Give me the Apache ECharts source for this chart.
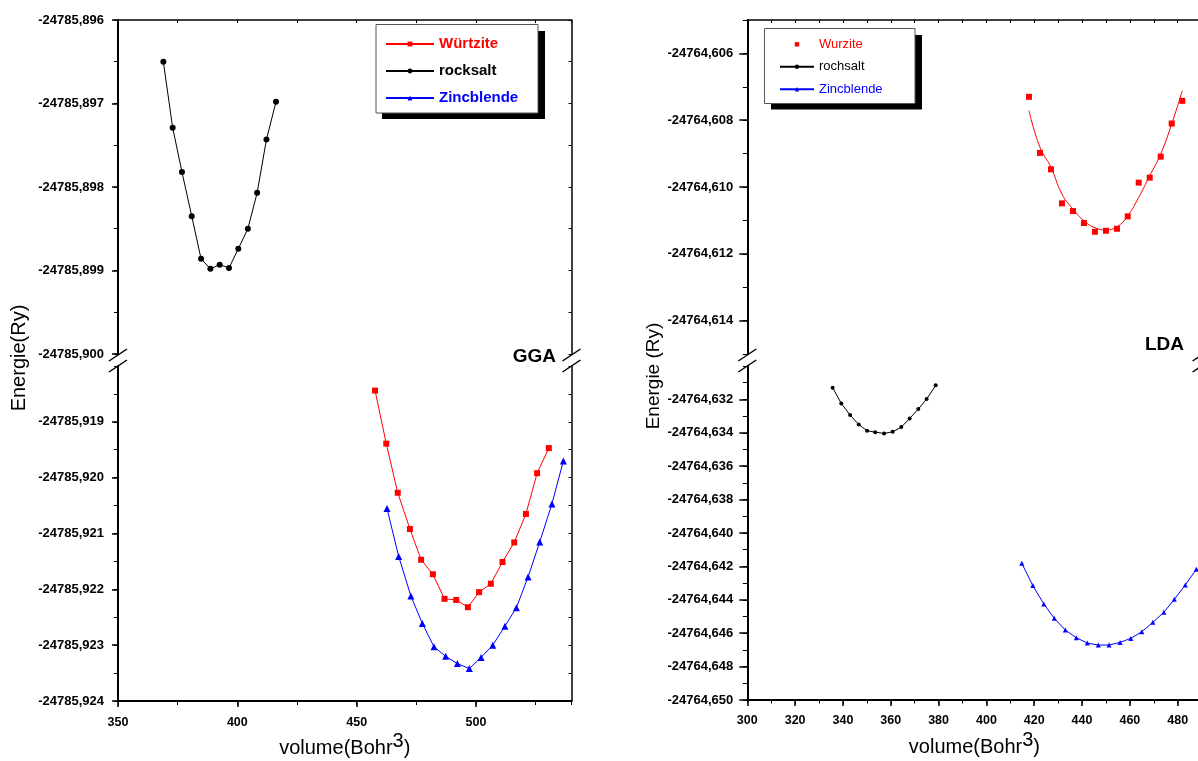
<!DOCTYPE html>
<html>
<head>
<meta charset="utf-8">
<script src="https://cdn.jsdelivr.net/npm/echarts@6/dist/echarts.min.js"></script>
<style>
  html, body { margin: 0; padding: 0; background: #fff; }
  #chart { width: 1198px; height: 761px; }
</style>
</head>
<body>
<div id="chart"></div>
<script>
// ---------- GGA (left panel) ----------
const ggaRocksaltVol = [369.0, 372.9, 376.8, 380.9, 384.8, 388.7, 392.6, 396.5, 400.4, 404.4, 408.3, 412.2, 416.2];
const ggaRocksaltE = [-24785.8965, -24785.89729, -24785.89782, -24785.89835, -24785.89886, -24785.89898, -24785.89893,
  -24785.89897, -24785.89874, -24785.89850, -24785.89807, -24785.89743, -24785.89698];

const ggaWurtziteVol = [457.7, 462.4, 467.2, 472.3, 477.0, 481.9, 486.8, 491.7, 496.6, 501.3, 506.2, 511.1, 516.0, 520.9, 525.6, 530.5];
const ggaWurtziteE = [-24785.91844, -24785.91939, -24785.92027, -24785.92092, -24785.92147, -24785.92173, -24785.92217, -24785.92219,
  -24785.92232, -24785.92205, -24785.92190, -24785.92151, -24785.92116, -24785.92065, -24785.91992, -24785.91947];

const ggaZincVol = [462.7, 467.6, 472.7, 477.5, 482.4, 487.3, 492.2, 497.2, 502.1, 507.0, 512.1, 516.9, 521.8, 526.7, 531.8, 536.6];
const ggaZincE = [-24785.92055, -24785.92141, -24785.92212, -24785.92261, -24785.92303, -24785.92320, -24785.92333, -24785.92342,
  -24785.92322, -24785.92300, -24785.92266, -24785.92233, -24785.92178, -24785.92115, -24785.92047, -24785.91970];

// ---------- LDA (right panel) ----------
const ldaRocksaltVol = [335.7, 339.3, 343.0, 346.6, 350.1, 353.5, 357.2, 360.8, 364.4, 367.9, 371.5, 375.0, 378.8];
const ldaRocksaltE = [-24764.63130, -24764.63224, -24764.63294, -24764.63350, -24764.63388, -24764.63396, -24764.63404,
  -24764.63394, -24764.63366, -24764.63314, -24764.63258, -24764.63198, -24764.63116];

const ldaWurziteVol = [417.8, 422.4, 427.0, 431.6, 436.2, 440.8, 445.4, 450.0, 454.6, 459.1, 463.7, 468.3, 472.9, 477.5, 481.9];
const ldaWurziteE = [-24764.60730, -24764.60898, -24764.60947, -24764.61049, -24764.61072, -24764.61108, -24764.61134, -24764.61131,
  -24764.61125, -24764.61088, -24764.60987, -24764.60972, -24764.60909, -24764.60810, -24764.60742];
// fitted curve through the wurzite points
const ldaWurziteFitE = [-24764.60771, -24764.60881, -24764.60941, -24764.61021, -24764.61066, -24764.61101, -24764.61122, -24764.61128,
  -24764.61119, -24764.61086, -24764.61031, -24764.60966, -24764.60901, -24764.60811, -24764.60712];

const ldaZincVol = [414.8, 419.4, 424.0, 428.4, 433.0, 437.6, 442.2, 446.8, 451.3, 455.9, 460.4, 465.0, 469.6, 474.2, 478.6, 483.2, 487.8];
const ldaZincE = [-24764.64181, -24764.64315, -24764.64425, -24764.64511, -24764.64581, -24764.64627, -24764.64659, -24764.64671,
  -24764.64671, -24764.64655, -24764.64631, -24764.64591, -24764.64535, -24764.64475, -24764.64397, -24764.64311, -24764.64217];

// ---------- tick labels ----------
const ggaVolTicks = [350, 400, 450, 500];
const ldaVolTicks = [300, 320, 340, 360, 380, 400, 420, 440, 460, 480];
const ggaUpperETicks = [-24785.896, -24785.897, -24785.898, -24785.899, -24785.900];
const ggaLowerETicks = [-24785.919, -24785.920, -24785.921, -24785.922, -24785.923, -24785.924];
const ldaUpperETicks = [-24764.606, -24764.608, -24764.610, -24764.612, -24764.614];
const ldaLowerETicks = [-24764.632, -24764.634, -24764.636, -24764.638, -24764.640, -24764.642, -24764.644, -24764.646, -24764.648, -24764.650];

const FONT = '"Liberation Sans", Arial, Helvetica, sans-serif';
const fmtE = v => v.toFixed(3).replace('.', ',');
const fmtV = v => String(Math.round(v));
const zip = (xs, ys) => xs.map((x, i) => [x, ys[i]]);

const grids = [
  { left: 118, top: 20, width: 453.5, height: 334 },   // GGA upper
  { left: 118, top: 366, width: 453.5, height: 335 },  // GGA lower
  { left: 747.3, top: 20, width: 454.3, height: 334 }, // LDA upper
  { left: 747.3, top: 366, width: 454.3, height: 334 } // LDA lower
].map(g => Object.assign({ containLabel: false, outerBoundsMode: 'none' }, g));

const xAxes = [];
const yAxes = [];
const add = (list, o) => { list.push(o); return list.length - 1; };

// axis carrying the line, labelled major ticks
function mainAxis(gridIndex, position, min, max, ticks, tickLen, fmt, margin, fontSize) {
  return {
    type: 'value', gridIndex, position, min, max,
    axisLine: { show: true, onZero: false, lineStyle: { color: '#000', width: 2 } },
    axisTick: { show: true, inside: false, length: tickLen, customValues: ticks, lineStyle: { color: '#000', width: 1.5 } },
    axisLabel: { show: true, customValues: ticks, formatter: fmt, margin, color: '#000',
      fontFamily: FONT, fontSize, fontWeight: 'bold' },
    splitLine: { show: false }
  };
}
// plain tick row (minor ticks, mirrored frame sides)
function tickAxis(gridIndex, position, min, max, step, len, inside, showLine) {
  return {
    type: 'value', gridIndex, position, min, max, interval: step,
    axisLine: { show: !!showLine, onZero: false, lineStyle: { color: '#000', width: 1.5 } },
    axisTick: { show: true, inside, length: len, lineStyle: { color: '#000', width: 1 } },
    axisLabel: { show: false },
    splitLine: { show: false }
  };
}

const volName = '{n|volume(Bohr}{s|3}{n|)}';
const volNameStyle = {
  color: '#000', fontFamily: FONT, fontSize: 20,
  rich: {
    n: { fontFamily: FONT, fontSize: 20, color: '#000', verticalAlign: 'bottom' },
    s: { fontFamily: FONT, fontSize: 20, color: '#000', verticalAlign: 'bottom', padding: [0, 0, 7, 0] }
  }
};

// ---- GGA axes ----
const ggaX = [350, 540];
const ggaUpY = [-24785.900, -24785.896];
const ggaLoY = [-24785.924, -24785.918];
const xGgaTop = add(xAxes, tickAxis(0, 'top', ggaX[0], ggaX[1], 25, 3, true, true));
const xGgaBot = add(xAxes, Object.assign(mainAxis(1, 'bottom', ggaX[0], ggaX[1], ggaVolTicks, 6, fmtV, 15, 12.5), {
  name: volName, nameLocation: 'middle', nameGap: 30, nameTextStyle: volNameStyle }));
add(xAxes, tickAxis(1, 'bottom', ggaX[0], ggaX[1], 25, 4, false, false));

const yGgaUp = add(yAxes, mainAxis(0, 'left', ggaUpY[0], ggaUpY[1], ggaUpperETicks, 6, fmtE, 14, 13));
add(yAxes, tickAxis(0, 'left', ggaUpY[0], ggaUpY[1], 0.0005, 4, false, false));
add(yAxes, tickAxis(0, 'right', ggaUpY[0], ggaUpY[1], 0.0005, 3, true, true));
const yGgaLo = add(yAxes, mainAxis(1, 'left', ggaLoY[0], ggaLoY[1], ggaLowerETicks, 6, fmtE, 14, 13));
add(yAxes, tickAxis(1, 'left', ggaLoY[0], ggaLoY[1], 0.0005, 4, false, false));
add(yAxes, tickAxis(1, 'right', ggaLoY[0], ggaLoY[1], 0.0005, 3, true, true));

// ---- LDA axes ----
const ldaX = [300, 490];
const ldaUpY = [-24764.615, -24764.605];
const ldaLoY = [-24764.650, -24764.630];
const xLdaTop = add(xAxes, tickAxis(2, 'top', ldaX[0], ldaX[1], 10, 3, true, true));
const xLdaBot = add(xAxes, Object.assign(mainAxis(3, 'bottom', ldaX[0], ldaX[1], ldaVolTicks, 6, fmtV, 14, 12.5), {
  name: volName, nameLocation: 'middle', nameGap: 30, nameTextStyle: volNameStyle }));
add(xAxes, tickAxis(3, 'bottom', ldaX[0], ldaX[1], 10, 3.5, false, false));

const yLdaUp = add(yAxes, mainAxis(2, 'left', ldaUpY[0], ldaUpY[1], ldaUpperETicks, 8, fmtE, 14, 13));
add(yAxes, tickAxis(2, 'left', ldaUpY[0], ldaUpY[1], 0.001, 4.5, false, false));
add(yAxes, tickAxis(2, 'right', ldaUpY[0], ldaUpY[1], 0.001, 3, true, true));
const yLdaLo = add(yAxes, mainAxis(3, 'left', ldaLoY[0], ldaLoY[1], ldaLowerETicks, 8, fmtE, 14, 13));
add(yAxes, tickAxis(3, 'left', ldaLoY[0], ldaLoY[1], 0.001, 4.5, false, false));
add(yAxes, tickAxis(3, 'right', ldaLoY[0], ldaLoY[1], 0.001, 3, true, true));

const RED = '#ff0000', BLUE = '#0000ff', BLACK = '#000000';

function lineSeries(name, xi, yi, data, color, symbol, size, extra) {
  return Object.assign({
    type: 'line', name, xAxisIndex: xi, yAxisIndex: yi, data,
    symbol, symbolSize: size, showSymbol: true,
    itemStyle: { color }, lineStyle: { color, width: 1 },
    emphasis: { disabled: true }, z: 3
  }, extra || {});
}

const series = [
  lineSeries('rocksalt', xGgaTop, yGgaUp, zip(ggaRocksaltVol, ggaRocksaltE), BLACK, 'circle', 6),
  lineSeries('Würtzite', xGgaBot, yGgaLo, zip(ggaWurtziteVol, ggaWurtziteE), RED, 'rect', 6),
  lineSeries('Zincblende', xGgaBot, yGgaLo, zip(ggaZincVol, ggaZincE), BLUE, 'triangle', 7),
  lineSeries('Wurzite', xLdaTop, yLdaUp, zip(ldaWurziteVol, ldaWurziteE), RED, 'rect', 6,
    { lineStyle: { color: RED, width: 1, opacity: 0 } }),
  lineSeries('Wurzite fit', xLdaTop, yLdaUp, zip(ldaWurziteVol, ldaWurziteFitE), RED, 'none', 0, { smooth: true }),
  lineSeries('rochsalt', xLdaBot, yLdaLo, zip(ldaRocksaltVol, ldaRocksaltE), BLACK, 'circle', 4),
  lineSeries('Zincblende', xLdaBot, yLdaLo, zip(ldaZincVol, ldaZincE), BLUE, 'triangle', 5)
];

const legends = [
  {
    orient: 'vertical', left: 385, top: 36.5, padding: 0,
    itemWidth: 48, itemHeight: 6, itemGap: 12, selectedMode: false, z: 60,
    textStyle: { fontFamily: FONT, fontSize: 15, fontWeight: 'bold', lineHeight: 15 },
    data: [
      { name: 'Würtzite', textStyle: { color: RED } },
      { name: 'rocksalt', textStyle: { color: BLACK } },
      { name: 'Zincblende', textStyle: { color: BLUE } }
    ]
  },
  {
    orient: 'vertical', left: 779, top: 37.8, padding: 0,
    itemWidth: 34, itemHeight: 5.5, itemGap: 9.5, selectedMode: false, z: 60,
    textStyle: { fontFamily: FONT, fontSize: 13, lineHeight: 13 },
    data: [
      { name: 'Wurzite', textStyle: { color: RED }, lineStyle: { opacity: 0 } },
      { name: 'rochsalt', textStyle: { color: BLACK } },
      { name: 'Zincblende', textStyle: { color: BLUE } }
    ]
  }
];

// axis break marks: two short parallel strokes crossing each vertical axis
function breakMarks(cx) {
  return [
    { type: 'line', z: 70, shape: { x1: cx - 9, y1: 361, x2: cx + 9, y2: 349 }, style: { stroke: '#000', lineWidth: 1.5 } },
    { type: 'line', z: 70, shape: { x1: cx - 9, y1: 372, x2: cx + 9, y2: 360 }, style: { stroke: '#000', lineWidth: 1.5 } }
  ];
}

const graphic = [
  // legend frames with solid drop shadow
  { type: 'rect', z: 49, shape: { x: 382, y: 31, width: 163, height: 88 }, style: { fill: '#000' } },
  { type: 'rect', z: 50, shape: { x: 376, y: 24.5, width: 162, height: 88.5 }, style: { fill: '#fff', stroke: '#555', lineWidth: 1 } },
  { type: 'rect', z: 49, shape: { x: 771, y: 35, width: 151, height: 74.5 }, style: { fill: '#000' } },
  { type: 'rect', z: 50, shape: { x: 764.5, y: 28.5, width: 150.5, height: 75 }, style: { fill: '#fff', stroke: '#555', lineWidth: 1 } },
  // panel tags
  { type: 'text', z: 70, x: 556, y: 357, style: { text: 'GGA', fill: '#000', font: 'bold 19px ' + FONT, textAlign: 'right', textVerticalAlign: 'middle' } },
  { type: 'text', z: 70, x: 1184, y: 345, style: { text: 'LDA', fill: '#000', font: 'bold 19px ' + FONT, textAlign: 'right', textVerticalAlign: 'middle' } },
  // energy axis titles
  { type: 'text', z: 70, x: 19, y: 358, rotation: Math.PI / 2, style: { text: 'Energie(Ry)', fill: '#000', font: '20px ' + FONT, textAlign: 'center', textVerticalAlign: 'middle' } },
  { type: 'text', z: 70, x: 654, y: 376, rotation: Math.PI / 2, style: { text: 'Energie (Ry)', fill: '#000', font: '19px ' + FONT, textAlign: 'center', textVerticalAlign: 'middle' } }
].concat(breakMarks(118), breakMarks(571.5), breakMarks(747.3), breakMarks(1201.6));

const chart = echarts.init(document.getElementById('chart'), null, { renderer: 'canvas' });
chart.setOption({
  animation: false,
  backgroundColor: '#fff',
  grid: grids,
  xAxis: xAxes,
  yAxis: yAxes,
  legend: legends,
  series,
  graphic
});
</script>
</body>
</html>
